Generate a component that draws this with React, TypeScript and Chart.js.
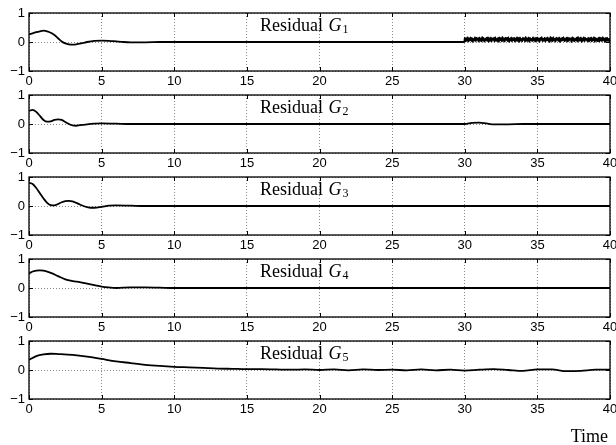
import React, { useEffect, useRef } from "react";
import { Chart, registerables } from "chart.js";
Chart.register(...registerables);

// ---------- data ----------
const xTicks = [0, 5, 10, 15, 20, 25, 30, 35, 40];
const yTicks = [-1, 0, 1];
const subscripts = ["1", "2", "3", "4", "5"];
const axisLabel = "Time";

const g1X = [0, 0.25, 0.5, 0.75, 1, 1.25, 1.5, 1.75, 2, 2.25, 2.5, 2.75, 3, 3.25, 3.5, 3.75, 4, 4.5, 5, 5.5, 6, 6.5, 7, 8, 9, 10, 12, 15, 20, 25, 29.97];
const g1Y = [0.26, 0.30, 0.34, 0.37, 0.39, 0.37, 0.32, 0.24, 0.13, 0.02, -0.05, -0.08, -0.09, -0.08, -0.06, -0.03, 0.0, 0.04, 0.05, 0.04, 0.02, 0.0, -0.01, -0.01, 0, 0, 0, 0, 0, 0, 0];
// noisy segment of G1 sampled every 0.05 from 30 to 40
const g1NoiseStart = 30;
const g1NoiseStep = 0.05;
const g1NoiseY = [
  0.15, 0.02, 0.13, 0.04, 0.17, 0.01, 0.12, 0.06, 0.16, 0.03,
  0.14, 0.00, 0.11, 0.05, 0.17, 0.02, 0.15, 0.07, 0.13, 0.01,
  0.16, 0.04, 0.12, 0.02, 0.18, 0.05, 0.14, 0.01, 0.11, 0.06,
  0.15, 0.03, 0.17, 0.00, 0.13, 0.04, 0.16, 0.02, 0.12, 0.07,
  0.14, 0.01, 0.17, 0.05, 0.11, 0.03, 0.15, 0.00, 0.16, 0.06,
  0.13, 0.02, 0.18, 0.04, 0.12, 0.01, 0.15, 0.07, 0.14, 0.03,
  0.17, 0.00, 0.11, 0.05, 0.16, 0.02, 0.13, 0.06, 0.15, 0.01,
  0.12, 0.04, 0.17, 0.03, 0.14, 0.00, 0.16, 0.05, 0.11, 0.02,
  0.15, 0.07, 0.13, 0.01, 0.18, 0.04, 0.12, 0.03, 0.16, 0.00,
  0.14, 0.06, 0.11, 0.02, 0.17, 0.05, 0.13, 0.01, 0.15, 0.03,
  0.16, 0.04, 0.12, 0.00, 0.14, 0.07, 0.17, 0.02, 0.11, 0.05,
  0.15, 0.01, 0.13, 0.06, 0.16, 0.03, 0.12, 0.00, 0.18, 0.04,
  0.14, 0.02, 0.17, 0.05, 0.11, 0.01, 0.15, 0.07, 0.13, 0.03,
  0.16, 0.00, 0.12, 0.04, 0.14, 0.06, 0.17, 0.02, 0.11, 0.05,
  0.15, 0.01, 0.16, 0.03, 0.13, 0.07, 0.12, 0.00, 0.17, 0.04,
  0.14, 0.02, 0.11, 0.06, 0.15, 0.01, 0.18, 0.03, 0.13, 0.05,
  0.16, 0.00, 0.12, 0.04, 0.17, 0.02, 0.14, 0.07, 0.11, 0.03,
  0.15, 0.01, 0.13, 0.05, 0.16, 0.02, 0.12, 0.06, 0.17, 0.00,
  0.14, 0.04, 0.11, 0.03, 0.15, 0.01, 0.16, 0.05, 0.13, 0.02,
  0.17, 0.06, 0.12, 0.00, 0.14, 0.03, 0.15, 0.04, 0.11, 0.02,
  0.13,
];

const g2X = [0, 0.25, 0.5, 0.75, 1, 1.25, 1.5, 1.75, 2, 2.25, 2.5, 2.75, 3, 3.25, 3.5, 4, 4.5, 5, 6, 7, 8, 10, 15, 20, 25, 30, 30.5, 31, 31.5, 32, 33, 34, 36, 38, 40];
const g2Y = [0.45, 0.49, 0.42, 0.28, 0.14, 0.08, 0.09, 0.14, 0.16, 0.14, 0.07, 0.0, -0.05, -0.06, -0.04, -0.01, 0.01, 0.02, 0.01, 0.0, 0, 0, 0, 0, 0, 0, 0.04, 0.05, 0.02, -0.01, -0.01, 0, 0, 0, 0];

const g3X = [0, 0.25, 0.5, 0.75, 1, 1.25, 1.5, 1.75, 2, 2.25, 2.5, 2.75, 3, 3.25, 3.5, 3.75, 4, 4.25, 4.5, 5, 5.5, 6, 7, 8, 10, 15, 20, 25, 30, 35, 40];
const g3Y = [0.8, 0.76, 0.62, 0.44, 0.26, 0.11, 0.03, 0.02, 0.07, 0.13, 0.17, 0.18, 0.16, 0.11, 0.05, 0.0, -0.04, -0.06, -0.06, -0.03, 0.01, 0.02, 0.01, 0, 0, 0, 0, 0, 0, 0, 0];

const g4X = [0, 0.25, 0.5, 0.75, 1, 1.5, 2, 2.5, 3, 3.5, 4, 4.5, 5, 5.5, 6, 7, 8, 9, 10, 15, 20, 25, 30, 35, 40];
const g4Y = [0.5, 0.57, 0.6, 0.61, 0.6, 0.52, 0.41, 0.3, 0.24, 0.2, 0.15, 0.1, 0.05, 0.02, 0.0, 0.02, 0.02, 0.01, 0, 0, 0, 0, 0, 0, 0];

const g5X = [0, 0.5, 1, 1.5, 2, 3, 4, 5, 6, 7, 8, 9, 10, 11, 12, 13, 14, 15, 16, 17, 18, 19, 20, 21, 22, 23, 24, 25, 26, 27, 28, 29, 30, 31, 32, 33, 34, 35, 36, 37, 38, 39, 40];
const g5Y = [0.35, 0.48, 0.54, 0.56, 0.55, 0.52, 0.46, 0.38, 0.30, 0.24, 0.18, 0.14, 0.11, 0.09, 0.07, 0.05, 0.04, 0.03, 0.03, 0.02, 0.01, 0.02, 0.0, 0.02, -0.01, 0.02, 0.0, 0.01, -0.01, 0.02, -0.01, 0.01, -0.02, 0.01, 0.03, 0.0, -0.03, 0.02, 0.02, -0.04, -0.03, 0.01, 0.01];

const g1AllX = g1X.concat(g1NoiseY.map((_, i) => g1NoiseStart + i * g1NoiseStep));
const g1AllY = g1Y.concat(g1NoiseY);

const seriesX = [g1AllX, g2X, g3X, g4X, g5X];
const seriesY = [g1AllY, g2Y, g3Y, g4Y, g5Y];

// ---------- layout ----------
const PANEL_TOPS = [13, 95, 177, 259, 341];
const PLOT_H = 58;
const PAD_TOP = 8;
const X_AXIS_H = 22;
const CANVAS_W = 616;
const CANVAS_H = PAD_TOP + PLOT_H + X_AXIS_H;

const framePlugin = {
  id: "frame",
  afterDatasetsDraw(chart: any, _args: any, opts: any) {
    const { ctx, chartArea: a, scales } = chart;
    ctx.save();
    ctx.strokeStyle = "#000";
    ctx.lineWidth = 1.3;
    ctx.strokeRect(a.left, a.top, a.right - a.left, a.bottom - a.top);
    ctx.lineWidth = 1;
    ctx.beginPath();
    for (const v of xTicks) {
      const px = Math.round(scales.x.getPixelForValue(v)) + 0.5;
      ctx.moveTo(px, a.top);
      ctx.lineTo(px, a.top + 4);
      ctx.moveTo(px, a.bottom);
      ctx.lineTo(px, a.bottom - 4);
    }
    for (const v of yTicks) {
      const py = Math.round(scales.y.getPixelForValue(v)) + 0.5;
      ctx.moveTo(a.left, py);
      ctx.lineTo(a.left + 4, py);
      ctx.moveTo(a.right, py);
      ctx.lineTo(a.right - 4, py);
    }
    ctx.stroke();
    // title text inside the axes
    ctx.fillStyle = "#000";
    ctx.textBaseline = "alphabetic";
    ctx.textAlign = "left";
    let x = a.left + 231;
    const y = a.top + 18;
    ctx.font = '18px "Liberation Serif"';
    ctx.fillText("Residual", x, y);
    x += ctx.measureText("Residual ").width + 1;
    ctx.font = 'italic 18px "Liberation Serif"';
    ctx.fillText("G", x, y);
    x += ctx.measureText("G").width;
    ctx.font = '12px "Liberation Serif"';
    ctx.fillText(opts.sub, x + 1, y + 2);
    ctx.restore();
  },
};

function Panel({ idx }: { idx: number }) {
  const ref = useRef<HTMLCanvasElement>(null);
  useEffect(() => {
    if (!ref.current) return;
    const xs = seriesX[idx];
    const ys = seriesY[idx];
    const chart = new Chart(ref.current, {
      type: "line",
      data: {
        datasets: [
          {
            data: xs.map((x, i) => ({ x, y: ys[i] })),
            borderColor: "#000",
            borderWidth: 1.8,
            pointRadius: 0,
            cubicInterpolationMode: "monotone",
            fill: false,
          },
        ],
      },
      options: {
        animation: false,
        responsive: false,
        devicePixelRatio: 1,
        layout: { padding: { top: PAD_TOP, right: 6, left: 0, bottom: 0 } },
        plugins: {
          legend: { display: false },
          tooltip: { enabled: false },
          frame: { sub: subscripts[idx] },
        } as any,
        scales: {
          x: {
            type: "linear",
            min: 0,
            max: 40,
            afterBuildTicks: (s: any) => {
              s.ticks = xTicks.map((v) => ({ value: v }));
            },
            afterFit: (s: any) => {
              s.height = X_AXIS_H;
              s.paddingLeft = 0;
              s.paddingRight = 0;
            },
            ticks: {
              autoSkip: false,
              maxRotation: 0,
              padding: 3,
              color: "#000",
              font: { family: '"Liberation Sans"', size: 13 },
              callback: (v: any) => String(v),
            },
            grid: { color: "#8a8a8a", lineWidth: 1, drawTicks: false },
            border: { display: false, dash: [1, 2] },
          },
          y: {
            type: "linear",
            min: -1,
            max: 1,
            afterBuildTicks: (s: any) => {
              s.ticks = yTicks.map((v) => ({ value: v }));
            },
            afterFit: (s: any) => {
              s.width = 29;
              s.paddingTop = 0;
              s.paddingBottom = 0;
            },
            ticks: {
              padding: 4,
              color: "#000",
              font: { family: '"Liberation Sans"', size: 13 },
              callback: (v: any) => (Number(v) < 0 ? "\u2212" + Math.abs(Number(v)) : String(v)),
            },
            grid: { color: "#8a8a8a", lineWidth: 1, drawTicks: false },
            border: { display: false, dash: [1, 2] },
          },
        },
      },
      plugins: [framePlugin],
    } as any);
    return () => chart.destroy();
  }, [idx]);
  return (
    <div style={{ position: "absolute", left: 0, top: PANEL_TOPS[idx] - PAD_TOP, width: CANVAS_W, height: CANVAS_H }}>
      <canvas ref={ref} width={CANVAS_W} height={CANVAS_H} style={{ display: "block", width: CANVAS_W, height: CANVAS_H }} />
    </div>
  );
}

export default function App() {
  return (
    <div style={{ position: "absolute", left: 0, top: 0, width: 616, height: 445, background: "#fff", overflow: "hidden" }}>
      {subscripts.map((_, i) => (
        <Panel key={i} idx={i} />
      ))}
      <div
        style={{
          position: "absolute",
          left: 0,
          top: 427,
          width: 608,
          textAlign: "right",
          fontFamily: '"Liberation Serif"',
          fontSize: 18,
          lineHeight: "18px",
          color: "#000",
        }}
      >
        {axisLabel}
      </div>
    </div>
  );
}
